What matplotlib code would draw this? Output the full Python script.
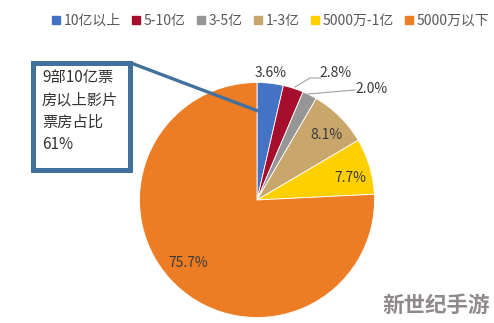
import matplotlib
matplotlib.use("Agg")
import matplotlib.pyplot as plt
from matplotlib.patches import Rectangle
from matplotlib.lines import Line2D

plt.rcParams['font.family'] = ['Noto Sans CJK SC', 'DejaVu Sans']

# data
labels = ["10亿以上", "5-10亿", "3-5亿", "1-3亿", "5000万-1亿", "5000万以下"]
shares = [3.6, 2.8, 2.0, 8.1, 7.7, 75.7]
colors = ["#4472C4", "#A50F2D", "#969696", "#C8A66C", "#FFD000", "#ED7D25"]
pct_text = ["3.6%", "2.8%", "2.0%", "8.1%", "7.7%", "75.7%"]

W, H = 494, 323
fig = plt.figure(figsize=(W / 100, H / 100), dpi=100)
ax = fig.add_axes([0, 0, 1, 1])
ax.set_xlim(0, W)
ax.set_ylim(0, H)
ax.set_aspect("equal")
ax.axis("off")


def py(y):
    # pixel y (from top) -> data y
    return H - y


wedges, _ = ax.pie(shares, colors=colors, startangle=90, counterclock=False,
                   center=(257, py(200)), radius=117.5,
                   wedgeprops=dict(edgecolor="white", linewidth=0.6))
ax.set_xlim(0, W)
ax.set_ylim(0, H)

# percentage labels
txt = "#3a3a3a"
fs = 10
ax.text(271, py(73), pct_text[0], ha="center", va="center", fontsize=fs, color=txt)
ax.text(336, py(73), pct_text[1], ha="center", va="center", fontsize=fs, color=txt)
ax.text(371, py(89), pct_text[2], ha="center", va="center", fontsize=fs, color=txt)
ax.text(326, py(135), pct_text[3], ha="center", va="center", fontsize=fs, color=txt)
ax.text(350, py(178), pct_text[4], ha="center", va="center", fontsize=fs, color=txt)
ax.text(188, py(263), pct_text[5], ha="center", va="center", fontsize=fs, color=txt)

# leader lines
ax.plot([295, 310, 321], [py(87), py(78), py(78)], color="#a0a0a0", lw=0.8)
ax.plot([308, 355], [py(94), py(90)], color="#a0a0a0", lw=0.8)

# callout box
box_c = "#41719C"
ax.add_patch(Rectangle((33, py(170)), 97, 107, fill=True, facecolor="white",
                       edgecolor=box_c, lw=3.6, zorder=5))
ax.plot([131, 258], [py(63), py(111)], color=box_c, lw=2.4, zorder=4,
        solid_capstyle="butt")
ax.text(42, py(111), "9部10亿票\n房以上影片\n票房占比\n61%", ha="left", va="center",
        fontsize=11, color="#333333", linespacing=1.4, zorder=6)

# legend
handles = [Line2D([], [], marker="s", ls="", color=c, markersize=5.5) for c in colors]
fig.legend(handles, labels, loc="upper center", bbox_to_anchor=(0.548, 0.995),
           ncol=6, frameon=False, fontsize=10, handlelength=0.6,
           handletextpad=0.25, columnspacing=0.8, labelcolor="#595959")

# watermark
ax.text(436, py(305), "新世纪手游", ha="center", va="center", fontsize=15.5,
        fontweight="bold", color="#8e8a8b")

fig.savefig("out.png", dpi=100)
